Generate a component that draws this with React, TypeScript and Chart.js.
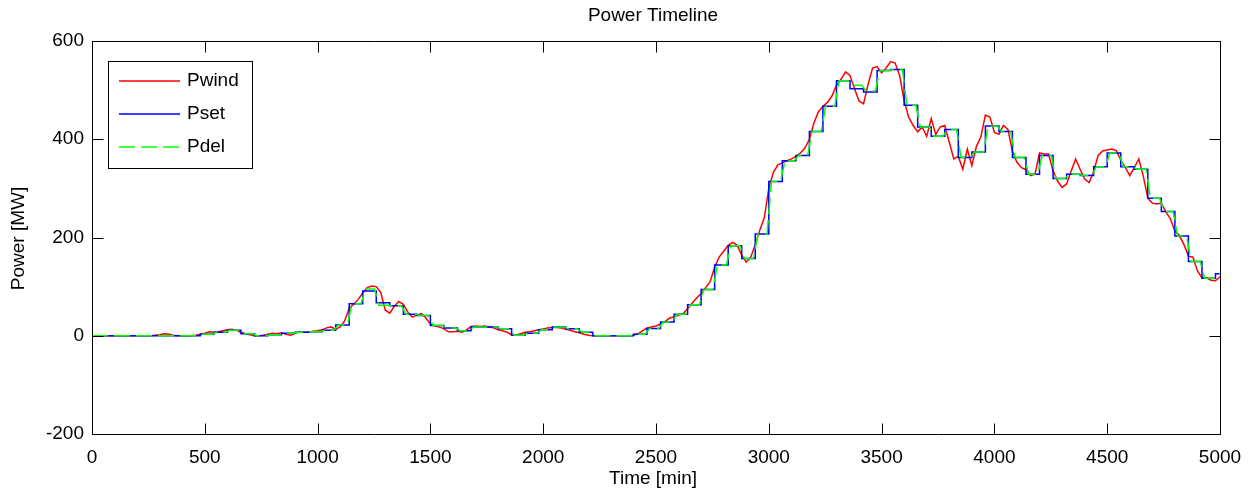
import React, { useEffect, useRef } from 'react';
import { Chart, registerables } from 'chart.js';

Chart.register(...registerables);

const W = 1258;
const H = 491;
const FONT = '"Liberation Sans", Arial, sans-serif';
const FONT_SIZE = 19;

const TITLE = 'Power Timeline';
const X_LABEL = 'Time [min]';
const Y_LABEL = 'Power [MW]';
const SERIES_NAMES = ['Pwind', 'Pset', 'Pdel'];
const SERIES_COLORS = ['#ff0000', '#0000ff', '#00ff00'];

const X_MIN = 0;
const X_MAX = 5000;
const X_STEP = 500;
const Y_MIN = -200;
const Y_MAX = 600;
const Y_STEP = 200;

// Pwind sampled every 20 min (0 .. 5000)
const WIND_DT = 20;
const pwind = [
  0, 0, 0, 0, 0, 0, 0, 0, 0, 0,
  0, 0, 0, 0, 1, 2, 4, 3, 1, 0,
  0, 0, 0, 1, 3, 5, 8, 7, 8, 10,
  12, 13, 11, 7, 4, 2, 0, 0, 1, 3,
  5, 4, 6, 3, 1, 5, 8, 7, 7, 9,
  10, 12, 16, 18, 13, 18, 30, 56, 64, 74,
  87, 98, 101, 100, 88, 52, 46, 60, 70, 64,
  48, 38, 42, 45, 36, 24, 20, 18, 14, 8,
  8, 9, 7, 12, 19, 20, 19, 20, 18, 16,
  12, 10, 7, 2, 1, 4, 7, 8, 10, 12,
  14, 16, 17, 17, 16, 13, 11, 8, 6, 3,
  1, 0, 0, 0, 0, 0, 0, 0, 0, 0,
  1, 4, 10, 16, 18, 20, 24, 29, 36, 38,
  42, 45, 55, 66, 77, 86, 98, 110, 140, 160,
  172, 184, 190, 184, 164, 150, 160, 185, 215, 240,
  300, 332, 348, 352, 356, 360, 365, 372, 382, 400,
  433, 456, 467, 475, 488, 510, 522, 537, 530, 503,
  478, 472, 512, 545, 548, 535, 545, 558, 555, 530,
  478, 445, 428, 415, 425, 406, 442, 410, 425, 428,
  394, 360, 365, 339, 380, 346, 385, 405, 449, 445,
  414, 410, 428, 420, 375, 353, 342, 338, 326, 329,
  372, 370, 370, 336, 315, 302, 309, 335, 360, 339,
  319, 312, 335, 367, 376, 378, 380, 377, 358, 343,
  326, 342, 360, 325, 280, 270, 268, 270, 252, 238,
  213, 204, 186, 162, 160, 132, 118, 118, 113, 112,
  120,
];

// Pset held constant over 60-min intervals
const SET_DT = 60;
const pset = [
  0, 0, 0, 0, 0, 0, 0, 0, 3, 7,
  11, 4, 0, 2, 5, 7, 8, 11, 22, 65,
  91, 67, 61, 44, 41, 21, 16, 10, 18, 18,
  14, 1, 5, 12, 18, 14, 7, 0, 0, 0,
  3, 15, 28, 44, 63, 94, 144, 183, 157, 207,
  314, 356, 367, 416, 467, 519, 503, 496, 540, 542,
  469, 425, 406, 420, 363, 374, 427, 416, 363, 329,
  367, 320, 329, 326, 344, 372, 344, 339, 280, 253,
  203, 151, 117, 126,
];

// Pdel level reached in each 60-min interval (ramps between levels)
const DEL_RAMP_START = 8;
const DEL_RAMP_END = 12;
const pdel = [
  0, 0, 0, 0, 0, 0, 0, 0, 3, 7,
  11, 4, 0, 2, 5, 7, 8, 11, 22, 65,
  95, 62, 61, 44, 41, 21, 16, 10, 18, 18,
  14, 1, 5, 12, 18, 14, 7, 0, 0, 0,
  3, 15, 28, 44, 63, 94, 144, 183, 157, 207,
  314, 356, 367, 416, 467, 519, 510, 498, 540, 542,
  469, 425, 406, 420, 363, 374, 427, 416, 363, 329,
  367, 320, 329, 326, 344, 372, 344, 339, 280, 253,
  203, 151, 117, 126,
];

const windPoints = pwind.map((v, i) => ({ x: i * WIND_DT, y: v }));
const setPoints = pset.map((v, k) => ({ x: k * SET_DT, y: v }));
setPoints.push({ x: X_MAX, y: pset[pset.length - 1] });
const delPoints: { x: number; y: number }[] = [];
pdel.forEach((v, k) => {
  const s = k * SET_DT;
  delPoints.push({ x: k === 0 ? 0 : s + DEL_RAMP_END, y: v });
  delPoints.push({ x: Math.min(s + SET_DT - DEL_RAMP_START, X_MAX), y: v });
});

const TICK_LEN = 11;

const framePlugin = {
  id: 'matlabFrame',
  beforeDraw(chart: any) {
    const ctx = chart.ctx;
    ctx.save();
    ctx.fillStyle = '#ffffff';
    ctx.fillRect(0, 0, chart.width, chart.height);
    ctx.restore();
  },
  afterDraw(chart: any) {
    const { ctx, chartArea: a, scales } = chart;
    ctx.save();
    ctx.strokeStyle = '#000000';
    ctx.lineWidth = 1;
    const L = Math.round(a.left) + 0.5;
    const R = Math.round(a.right) + 0.5;
    const T = Math.round(a.top) + 0.5;
    const B = Math.round(a.bottom) + 0.5;
    ctx.beginPath();
    ctx.rect(L, T, R - L, B - T);
    for (let v = X_MIN; v <= X_MAX; v += X_STEP) {
      const px = Math.round(scales.x.getPixelForValue(v)) + 0.5;
      ctx.moveTo(px, B);
      ctx.lineTo(px, B - TICK_LEN);
      ctx.moveTo(px, T);
      ctx.lineTo(px, T + TICK_LEN);
    }
    for (let v = Y_MIN; v <= Y_MAX; v += Y_STEP) {
      const py = Math.round(scales.y.getPixelForValue(v)) + 0.5;
      ctx.moveTo(L, py);
      ctx.lineTo(L + TICK_LEN, py);
      ctx.moveTo(R, py);
      ctx.lineTo(R - TICK_LEN, py);
    }
    ctx.stroke();

    // titles
    ctx.fillStyle = '#000000';
    ctx.font = `${FONT_SIZE}px ${FONT}`;
    ctx.textAlign = 'center';
    ctx.textBaseline = 'middle';
    const cx = (a.left + a.right) / 2;
    ctx.fillText(TITLE, cx - 3, 16);
    ctx.fillText(X_LABEL, cx - 3, 479);
    ctx.save();
    ctx.translate(19, (a.top + a.bottom) / 2 + 1);
    ctx.rotate(-Math.PI / 2);
    ctx.fillText(Y_LABEL, 0, 0);
    ctx.restore();

    // legend
    const lx = 108.5;
    const ly = 61.5;
    const lw = 144;
    const lh = 107;
    ctx.fillStyle = '#ffffff';
    ctx.fillRect(lx, ly, lw, lh);
    ctx.strokeStyle = '#000000';
    ctx.lineWidth = 1;
    ctx.strokeRect(lx, ly, lw, lh);
    const rows = [81, 114, 147];
    SERIES_NAMES.forEach((name, i) => {
      ctx.strokeStyle = SERIES_COLORS[i];
      ctx.lineWidth = 1.5;
      ctx.setLineDash(i === 2 ? [16, 6] : []);
      ctx.beginPath();
      ctx.moveTo(119, rows[i]);
      ctx.lineTo(180, rows[i]);
      ctx.stroke();
      ctx.setLineDash([]);
      ctx.fillStyle = '#000000';
      ctx.textAlign = 'left';
      ctx.fillText(name, 187, rows[i]);
    });
    ctx.restore();
  },
};

export default function App() {
  const ref = useRef<HTMLCanvasElement>(null);
  useEffect(() => {
    const canvas = ref.current;
    if (!canvas) return;
    const chart = new Chart(canvas, {
      type: 'line',
      data: {
        datasets: [
          {
            label: SERIES_NAMES[0],
            data: windPoints,
            borderColor: SERIES_COLORS[0],
            borderWidth: 1.5,
            pointRadius: 0,
            tension: 0,
            order: 3,
          },
          {
            label: SERIES_NAMES[1],
            data: setPoints,
            borderColor: SERIES_COLORS[1],
            borderWidth: 1.5,
            pointRadius: 0,
            stepped: 'before',
            order: 2,
          },
          {
            label: SERIES_NAMES[2],
            data: delPoints,
            borderColor: SERIES_COLORS[2],
            borderWidth: 1.5,
            borderDash: [16, 6],
            pointRadius: 0,
            tension: 0,
            order: 1,
          },
        ],
      },
      options: {
        animation: false,
        responsive: false,
        devicePixelRatio: 1,
        events: [],
        layout: { padding: { left: 0, right: 38, top: 41, bottom: 0 } },
        plugins: {
          legend: { display: false },
          title: { display: false },
          tooltip: { enabled: false },
        },
        scales: {
          x: {
            type: 'linear',
            min: X_MIN,
            max: X_MAX,
            grid: { display: false, drawTicks: false },
            border: { display: false },
            ticks: {
              stepSize: X_STEP,
              autoSkip: false,
              maxRotation: 0,
              padding: 12,
              color: '#000000',
              font: { family: FONT, size: FONT_SIZE },
              callback: (v: any) => String(v),
            },
            afterFit: (s: any) => {
              s.height = 57;
            },
          },
          y: {
            type: 'linear',
            min: Y_MIN,
            max: Y_MAX,
            grid: { display: false, drawTicks: false },
            border: { display: false },
            ticks: {
              stepSize: Y_STEP,
              padding: 8,
              color: '#000000',
              font: { family: FONT, size: FONT_SIZE },
              callback: (v: any) => String(v),
            },
            afterFit: (s: any) => {
              s.width = 92;
            },
          },
        },
      },
      plugins: [framePlugin],
    });
    return () => chart.destroy();
  }, []);
  return (
    <div style={{ position: 'fixed', left: 0, top: 0, width: W, height: H, background: '#ffffff' }}>
      <canvas ref={ref} width={W} height={H} style={{ display: 'block', width: W, height: H }} />
    </div>
  );
}
